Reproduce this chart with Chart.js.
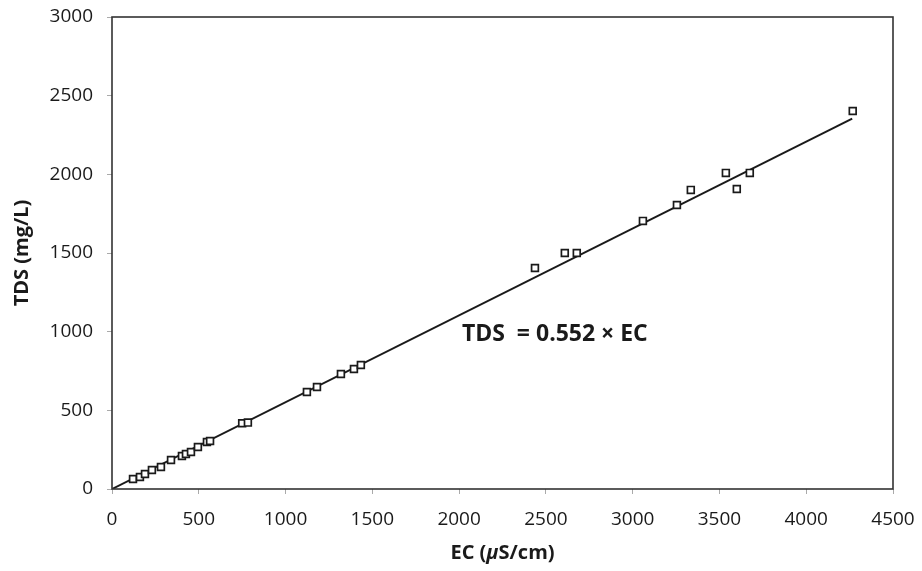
<!DOCTYPE html>
<html>
<head>
<meta charset="utf-8">
<script src="https://cdn.jsdelivr.net/npm/chart.js@4/dist/chart.umd.min.js"></script>
<style>
  html, body { margin: 0; padding: 0; background: #fff; }
  #wrap { width: 922px; height: 571px; }
</style>
</head>
<body>
<div id="wrap"><canvas id="chart" width="922" height="571"></canvas></div>
<script>
// measured samples, EC in uS/cm and TDS in mg/L
const ecValues = [121, 161, 190, 230, 282, 340, 403, 426, 455, 495, 547, 565,
  750, 783, 1123, 1181, 1319, 1394, 1434, 2437, 2609, 2678,
  3059, 3255, 3335, 3537, 3600, 3675, 4268];
const tdsValues = [64, 76, 95, 121, 140, 184, 210, 222, 235, 267, 299, 305,
  418, 422, 617, 648, 731, 763, 788, 1405, 1500, 1500,
  1704, 1805, 1901, 2009, 1907, 2009, 2403];

// fitted line TDS = slope x EC
const slope = 0.552;
const fitEC = [0, 4265];

const xTicks = [0, 500, 1000, 1500, 2000, 2500, 3000, 3500, 4000, 4500];
const yTicks = [0, 500, 1000, 1500, 2000, 2500, 3000];

const tickFont = { family: "Open Sans", size: 19 };
const ink = "#1a1a1a";

const points = ecValues.map((x, i) => ({ x: x, y: tdsValues[i] }));
const fitLine = fitEC.map(x => ({ x: x, y: slope * x }));

// box round the plot area
const frame = {
  id: "frame",
  afterDatasetsDraw(chart) {
    const { ctx, chartArea: a } = chart;
    ctx.save();
    ctx.strokeStyle = "#333";
    ctx.lineWidth = 1.6;
    ctx.strokeRect(a.left, a.top, a.right - a.left, a.bottom - a.top);
    ctx.restore();
  },
};

// equation label and the x title with an italic mu
const labels = {
  id: "labels",
  afterDraw(chart) {
    const { ctx, scales } = chart;
    ctx.save();
    ctx.fillStyle = ink;
    ctx.textBaseline = "middle";
    ctx.font = "bold 23px 'Open Sans'";
    ctx.fillText("TDS  = 0.552 \u00d7 EC", scales.x.getPixelForValue(2016), scales.y.getPixelForValue(985));

    const parts = [
      ["EC (", "bold 20px 'Open Sans'"],
      ["\u03bc", "italic bold 20px 'Open Sans'"],
      ["S/cm)", "bold 20px 'Open Sans'"],
    ];
    let total = 0;
    parts.forEach(p => { ctx.font = p[1]; total += ctx.measureText(p[0]).width; });
    let x = (chart.chartArea.left + chart.chartArea.right) / 2 - total / 2;
    parts.forEach(p => {
      ctx.font = p[1];
      ctx.fillText(p[0], x, 553);
      x += ctx.measureText(p[0]).width;
    });
    ctx.restore();
  },
};

new Chart(document.getElementById("chart"), {
  type: "scatter",
  data: {
    datasets: [
      {
        label: "Samples",
        data: points,
        pointStyle: "rect",
        pointRadius: 4.8,
        pointBorderWidth: 1.7,
        pointBorderColor: ink,
        pointBackgroundColor: "#fff",
      },
      {
        type: "line",
        label: "Fit",
        data: fitLine,
        borderColor: ink,
        borderWidth: 2,
        pointRadius: 0,
        fill: false,
      },
    ],
  },
  options: {
    responsive: false,
    animation: false,
    layout: { padding: { top: 17, right: 29, left: 0, bottom: 0 } },
    plugins: {
      legend: { display: false },
      tooltip: { enabled: false },
    },
    scales: {
      x: {
        type: "linear",
        min: 0,
        max: 4500,
        afterBuildTicks: s => { s.ticks = xTicks.map(v => ({ value: v })); },
        afterFit: s => {
          s.height = 82;
          s.paddingLeft = 0;
          s.paddingRight = 0;
        },
        grid: { display: true, drawOnChartArea: false, tickLength: 5, color: "#aaa" },
        border: { display: false },
        ticks: { font: tickFont, color: ink, padding: 14, maxRotation: 0, callback: v => String(v) },
      },
      y: {
        type: "linear",
        min: 0,
        max: 3000,
        afterBuildTicks: s => { s.ticks = yTicks.map(v => ({ value: v })); },
        afterFit: s => {
          s.width = 112;
          s.paddingTop = 0;
          s.paddingBottom = 0;
        },
        grid: { display: true, drawOnChartArea: false, tickLength: 5, color: "#aaa" },
        border: { display: false },
        ticks: { font: tickFont, color: ink, padding: 14, callback: v => String(v) },
        title: {
          display: true,
          text: "TDS (mg/L)",
          font: { family: "Open Sans", size: 20, weight: "bold" },
          color: ink,
          padding: { top: 10, bottom: 0 },
        },
      },
    },
  },
  plugins: [frame, labels],
});
</script>
</body>
</html>
